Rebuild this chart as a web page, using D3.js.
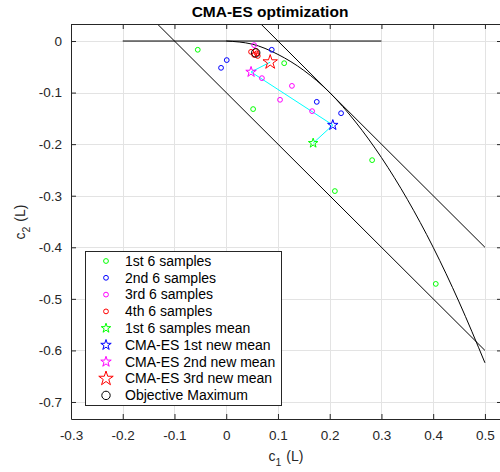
<!DOCTYPE html>
<html>
<head>
<meta charset="utf-8">
<script src="https://cdn.jsdelivr.net/npm/d3@7"></script>
<style>
  html, body { margin: 0; padding: 0; background: #fff; overflow: hidden; }
  svg { display: block; font-family: "Liberation Sans", Arial, Helvetica, sans-serif; }
</style>
</head>
<body>
<svg id="chart" width="500" height="472"></svg>
<script>
// ---------- data ----------
const xTicks = [-0.3, -0.2, -0.1, 0, 0.1, 0.2, 0.3, 0.4, 0.5];
const yTicks = [0, -0.1, -0.2, -0.3, -0.4, -0.5, -0.6, -0.7];

// 1st 6 samples
const s1C1 = [-0.055, 0.112, 0.052, 0.282, 0.210, 0.405];
const s1C2 = [-0.017, -0.043, -0.132, -0.231, -0.291, -0.471];
// 2nd 6 samples
const s2C1 = [-0.010, 0.001, 0.088, 0.175, 0.222];
const s2C2 = [-0.052, -0.037, -0.017, -0.118, -0.140];
// 3rd 6 samples
const s3C1 = [0.054, 0.069, 0.127, 0.104, 0.166];
const s3C2 = [-0.008, -0.072, -0.087, -0.114, -0.136];
// 4th 6 samples
const s4C1 = [0.048, 0.057, 0.061, 0.054, 0.059];
const s4C2 = [-0.021, -0.019, -0.029, -0.027, -0.024];

// means: 1st samples mean, CMA-ES 1st, 2nd, 3rd new mean
const meanC1 = [0.168, 0.206, 0.048, 0.085];
const meanC2 = [-0.198, -0.163, -0.060, -0.041];

// objective maximum
const optC1 = [0.057];
const optC2 = [-0.023];

// constraint lines
const hLineC1 = [-0.2, 0.3];
const hLineC2 = [0, 0];
const lineAC1 = [-0.2, 0.5];
const lineAC2 = [0.1, -0.6];
const lineBC1 = [0.0, 0.5];
const lineBC2 = [0.1, -0.4];
const curveC1 = [0, 0.05, 0.1, 0.15, 0.2, 0.25, 0.3, 0.35, 0.4, 0.45, 0.5];
const curveC2 = [0, -0.006, -0.026, -0.057, -0.1, -0.157, -0.226, -0.307, -0.4, -0.506, -0.624];

const legendLabels = ["1st 6 samples", "2nd 6 samples", "3rd 6 samples", "4th 6 samples",
  "1st 6 samples mean", "CMA-ES 1st new mean", "CMA-ES 2nd new mean", "CMA-ES 3rd new mean",
  "Objective Maximum"];

// ---------- drawing ----------
const svg = d3.select("#chart");
const L = 71, R = 502, T = 24, B = 419;
const x = d3.scaleLinear().domain([-0.3, 0.533]).range([L, R]);
const y = d3.scaleLinear().domain([-0.733, 0.033]).range([B, T]);
const axisCol = "#262626";

svg.append("defs").append("clipPath").attr("id", "clip")
  .append("rect").attr("x", L).attr("y", T).attr("width", R - L).attr("height", B - T);

// grid
const grid = svg.append("g").attr("stroke", "#e3e3e3").attr("stroke-width", 1);
grid.selectAll(".gx").data(xTicks).join("line")
  .attr("x1", d => Math.round(x(d)) + 0.5).attr("x2", d => Math.round(x(d)) + 0.5)
  .attr("y1", T).attr("y2", B);
grid.selectAll(".gy").data(yTicks).join("line")
  .attr("y1", d => Math.round(y(d)) + 0.5).attr("y2", d => Math.round(y(d)) + 0.5)
  .attr("x1", L).attr("x2", R);

const plot = svg.append("g").attr("clip-path", "url(#clip)");
const line = d3.line().x(d => x(d[0])).y(d => y(d[1]));
const zip = (a, b) => a.map((v, i) => [v, b[i]]);

// black constraint lines
[[hLineC1, hLineC2], [lineAC1, lineAC2], [lineBC1, lineBC2]].forEach(([a, b]) => {
  plot.append("path").attr("d", line(zip(a, b)))
    .attr("fill", "none").attr("stroke", "#000").attr("stroke-width", 1);
});
plot.append("path")
  .attr("d", d3.line().x(d => x(d[0])).y(d => y(d[1])).curve(d3.curveMonotoneX)(zip(curveC1, curveC2)))
  .attr("fill", "none").attr("stroke", "#000").attr("stroke-width", 1);

// cyan path of means
plot.append("path").attr("d", line(zip(meanC1, meanC2)))
  .attr("fill", "none").attr("stroke", "#00ffff").attr("stroke-width", 1);

// sample circles
const sampleSets = [[s1C1, s1C2, "#00ff00"], [s2C1, s2C2, "#0000ff"], [s3C1, s3C2, "#ff00ff"], [s4C1, s4C2, "#ff0000"]];
sampleSets.forEach(([a, b, c]) => {
  plot.append("g").selectAll("circle").data(zip(a, b)).join("circle")
    .attr("cx", d => x(d[0])).attr("cy", d => y(d[1])).attr("r", 2.4)
    .attr("fill", "none").attr("stroke", c).attr("stroke-width", 1);
});

// stars
const starColors = ["#00ff00", "#0000ff", "#ff00ff", "#ff0000"];
const starRadius = [5, 5.5, 5.5, 7.6];
const starSize = r => r * r / 0.8908130915292852;
plot.append("g").selectAll("path").data(zip(meanC1, meanC2)).join("path")
  .attr("transform", d => `translate(${x(d[0])},${y(d[1])})`)
  .attr("d", (d, i) => d3.symbol(d3.symbolStar, starSize(starRadius[i]))())
  .attr("fill", "none").attr("stroke", (d, i) => starColors[i]).attr("stroke-width", 1);

// objective maximum
plot.append("g").selectAll("circle").data(zip(optC1, optC2)).join("circle")
  .attr("cx", d => x(d[0])).attr("cy", d => y(d[1])).attr("r", 4.2)
  .attr("fill", "none").attr("stroke", "#000").attr("stroke-width", 1);

// axes
const fmt = d => d === 0 ? "0" : d.toFixed(1);
function styleAxis(g, hideText) {
  g.attr("font-family", null).attr("font-size", null);
  g.selectAll(".domain").attr("stroke", axisCol).attr("stroke-width", 1);
  g.selectAll(".tick line").attr("stroke", axisCol);
  g.selectAll(".tick text").attr("fill", axisCol).attr("font-size", 13.5);
  if (hideText) g.selectAll(".tick text").remove();
}
svg.append("g").attr("transform", `translate(0,${B})`)
  .call(d3.axisBottom(x).tickValues(xTicks).tickFormat(fmt).tickSizeInner(-5).tickSizeOuter(0).tickPadding(11))
  .call(g => styleAxis(g, false));
svg.append("g").attr("transform", `translate(0,${T})`)
  .call(d3.axisTop(x).tickValues(xTicks).tickSizeInner(-5).tickSizeOuter(0))
  .call(g => styleAxis(g, true));
svg.append("g").attr("transform", `translate(${L},0)`)
  .call(d3.axisLeft(y).tickValues(yTicks).tickFormat(fmt).tickSizeInner(-5).tickSizeOuter(0).tickPadding(9))
  .call(g => styleAxis(g, false));
svg.append("g").attr("transform", `translate(${R},0)`)
  .call(d3.axisRight(y).tickValues(yTicks).tickSizeInner(-5).tickSizeOuter(0))
  .call(g => styleAxis(g, true));

// title
svg.append("text").attr("x", 270).attr("y", 17).attr("text-anchor", "middle")
  .attr("font-size", 15.5).attr("font-weight", "bold").attr("fill", "#000")
  .text("CMA-ES optimization");

// x label
const xl = svg.append("text").attr("x", 286).attr("y", 461).attr("text-anchor", "middle")
  .attr("font-size", 14).attr("fill", axisCol);
xl.append("tspan").text("c");
xl.append("tspan").attr("font-size", 10.5).attr("dy", 5).text("1");
xl.append("tspan").attr("dy", -5).attr("dx", 5).text("(L)");

// y label
const yl = svg.append("text").attr("transform", "translate(25,222) rotate(-90)")
  .attr("text-anchor", "middle").attr("font-size", 14).attr("fill", axisCol);
yl.append("tspan").text("c");
yl.append("tspan").attr("font-size", 10.5).attr("dy", 5).text("2");
yl.append("tspan").attr("dy", -5).attr("dx", 5).text("(L)");

// legend
const lg = svg.append("g");
lg.append("rect").attr("x", 85.5).attr("y", 251.5).attr("width", 196).attr("height", 154)
  .attr("fill", "#fff").attr("stroke", axisCol).attr("stroke-width", 1);
const rowY = i => 261 + i * 16.8;
const mx = 106;
legendLabels.forEach((lab, i) => {
  const cy = rowY(i);
  if (i < 4) {
    lg.append("circle").attr("cx", mx).attr("cy", cy).attr("r", 2.4)
      .attr("fill", "none").attr("stroke", sampleSets[i][2]).attr("stroke-width", 1);
  } else if (i < 8) {
    const k = i - 4;
    lg.append("path").attr("transform", `translate(${mx},${cy})`)
      .attr("d", d3.symbol(d3.symbolStar, starSize(starRadius[k]))())
      .attr("fill", "none").attr("stroke", starColors[k]).attr("stroke-width", 1);
  } else {
    lg.append("circle").attr("cx", mx).attr("cy", cy).attr("r", 4.2)
      .attr("fill", "none").attr("stroke", "#000").attr("stroke-width", 1);
  }
  lg.append("text").attr("x", 125).attr("y", cy + 4.8).attr("font-size", 14)
    .attr("fill", "#000").text(lab);
});
</script>
</body>
</html>
